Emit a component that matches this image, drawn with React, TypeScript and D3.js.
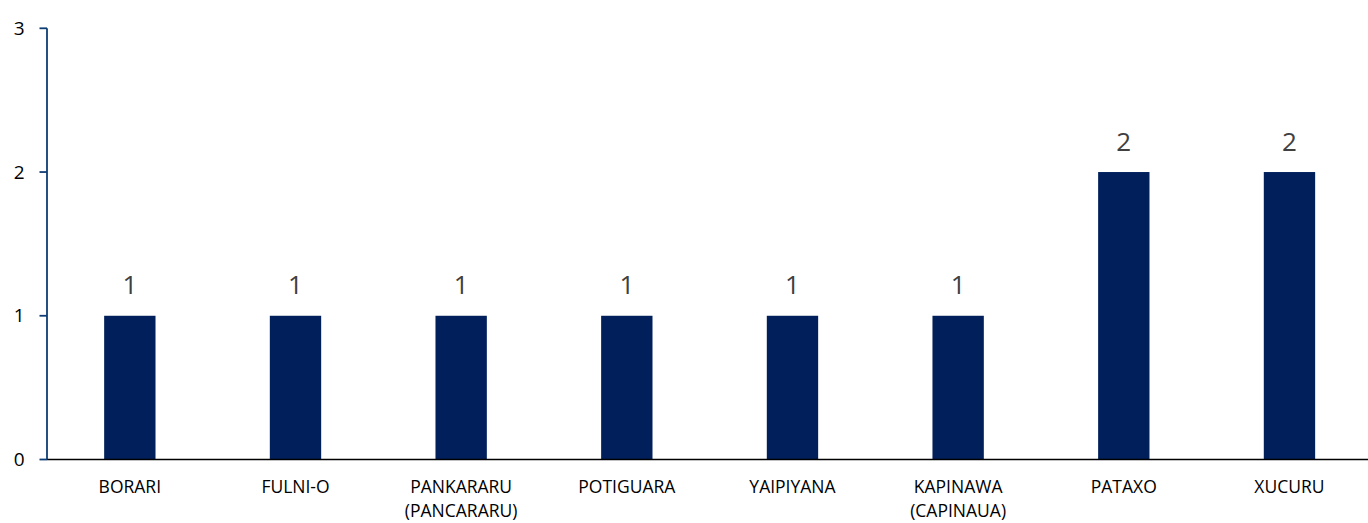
import React from "react";
import * as d3 from "d3";

const categories: string[][] = [
  ["BORARI"],
  ["FULNI-O"],
  ["PANKARARU", "(PANCARARU)"],
  ["POTIGUARA"],
  ["YAIPIYANA"],
  ["KAPINAWA", "(CAPINAUA)"],
  ["PATAXO"],
  ["XUCURU"],
];
const values: number[] = [1, 1, 1, 1, 1, 1, 2, 2];
const yTicks: number[] = [0, 1, 2, 3];

const W = 1368;
const H = 523;
const FONT = "'Open Sans', 'Noto Sans', sans-serif";

export default function App() {
  const keys = categories.map((c) => c.join(" "));
  const x = d3.scaleBand<string>().domain(keys).range([47, 1372.3]).padding(0);
  const y = d3.scaleLinear().domain([0, 3]).range([459.5, 28.3]);
  const barW = x.step() * 0.31;
  const axisX = 47;

  return (
    <div style={{ position: "absolute", left: 0, top: 0 }}>
      <svg width={W} height={H} style={{ display: "block", background: "#fff" }}>
        {/* bars */}
        {values.map((v, i) => {
          const cx = (x(keys[i]) as number) + x.bandwidth() / 2;
          return (
            <g key={i}>
              <rect
                x={cx - barW / 2}
                y={y(v)}
                width={barW}
                height={y(0) - y(v)}
                fill="#001f5b"
              />
              <text
                x={cx}
                y={y(v) - 21.5}
                textAnchor="middle"
                fontFamily={FONT}
                fontSize={26}
                fill="#404040"
              >
                {v}
              </text>
              {categories[i].map((line, j) => (
                <text
                  key={j}
                  x={cx}
                  y={493 + j * 24}
                  textAnchor="middle"
                  fontFamily={FONT}
                  fontSize={17.5}
                  fill="#000"
                >
                  {line}
                </text>
              ))}
            </g>
          );
        })}
        {/* x axis */}
        <line x1={axisX} x2={W} y1={y(0)} y2={y(0)} stroke="#000" strokeWidth={1.5} />
        {/* y axis */}
        <line x1={axisX} x2={axisX} y1={y(3)} y2={y(0)} stroke="#0e3d75" strokeWidth={1.8} />
        {yTicks.map((t) => (
          <g key={t}>
            <line x1={39.5} x2={axisX} y1={y(t)} y2={y(t)} stroke="#0e3d75" strokeWidth={1.8} />
            <text
              x={24.5}
              y={y(t)}
              dy="0.35em"
              textAnchor="end"
              fontFamily={FONT}
              fontSize={19}
              fill="#000"
            >
              {t}
            </text>
          </g>
        ))}
      </svg>
    </div>
  );
}
